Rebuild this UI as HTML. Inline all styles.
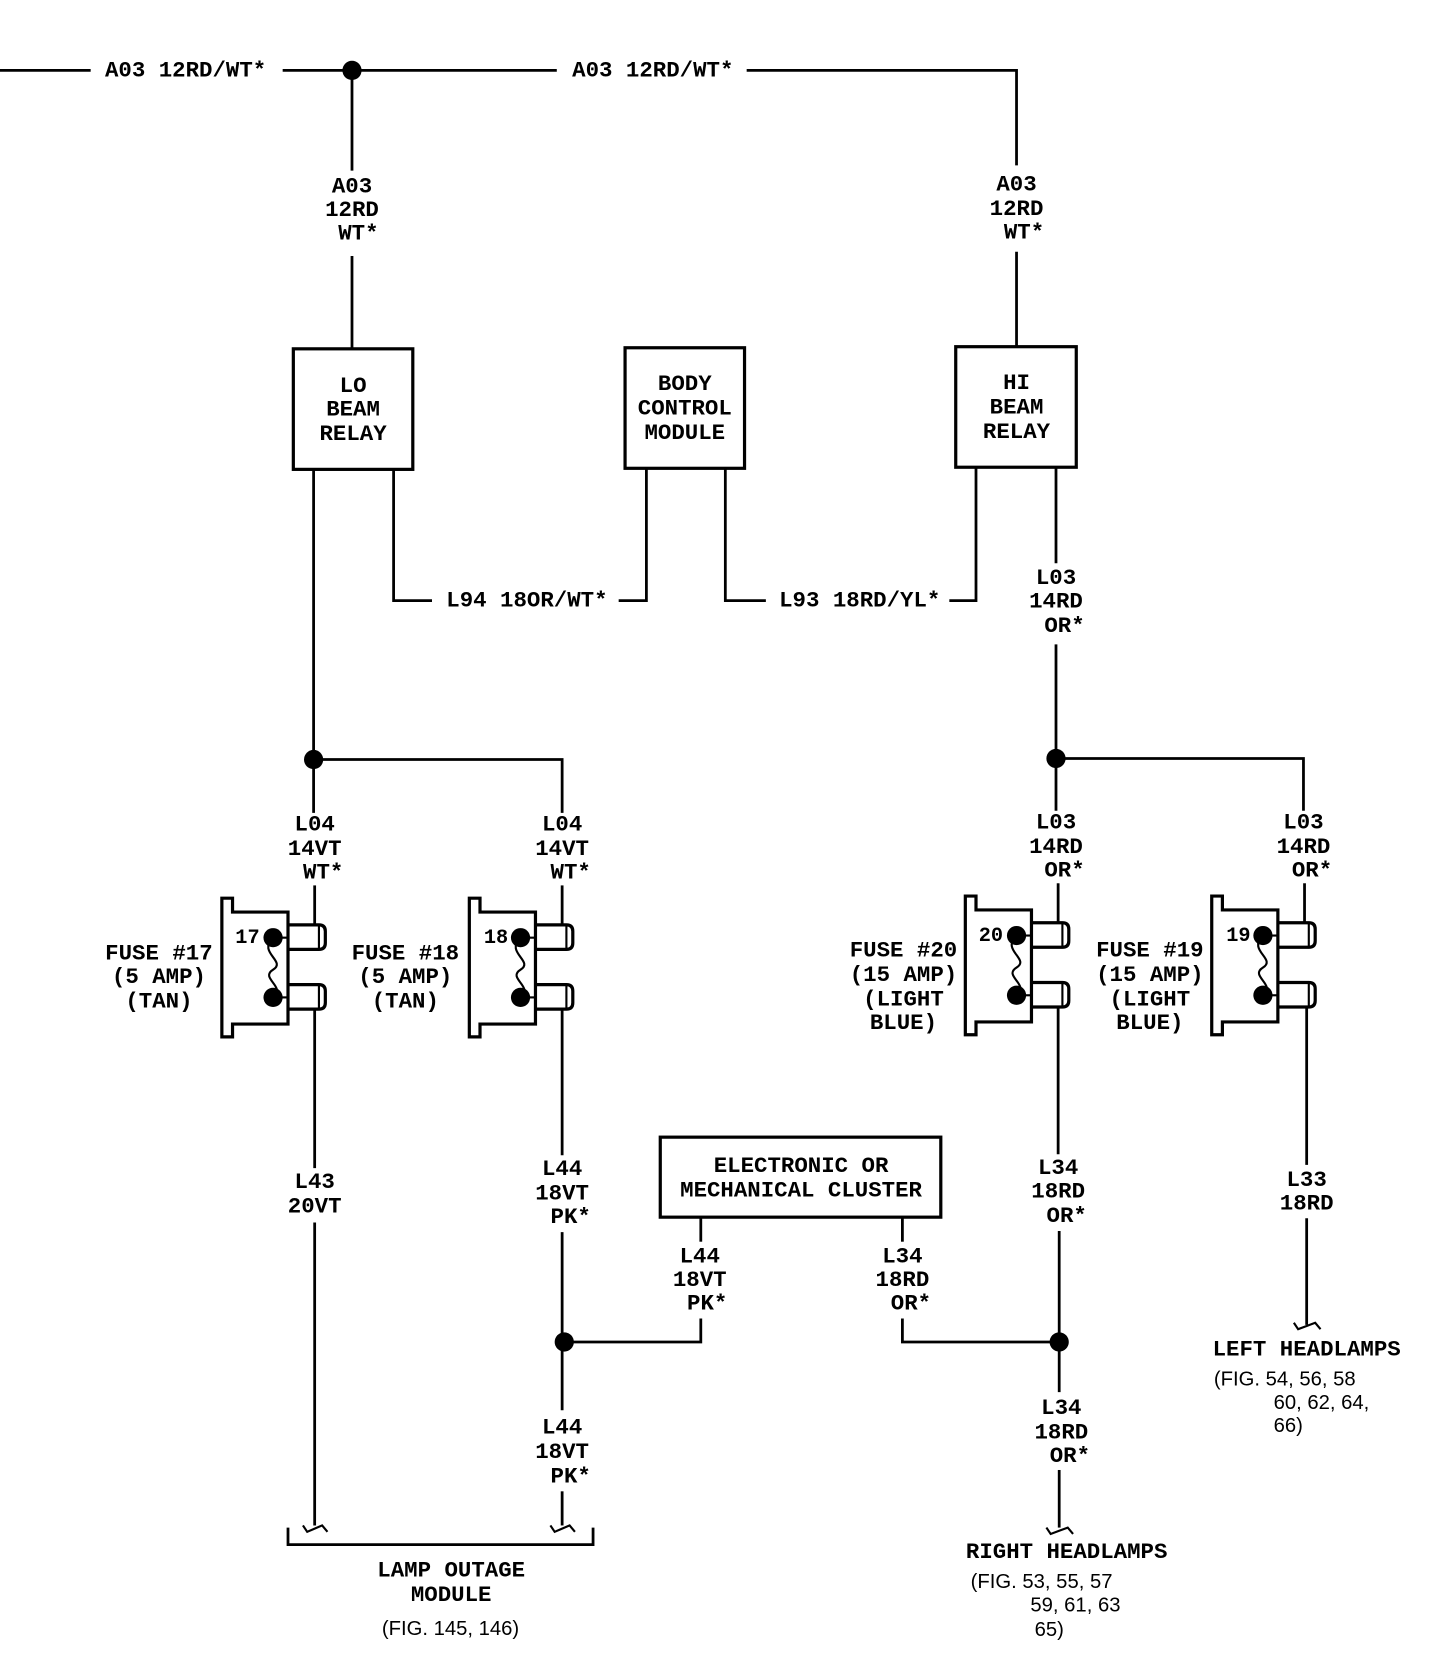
<!DOCTYPE html>
<html><head><meta charset="utf-8"><style>
html,body{margin:0;padding:0;background:#fff;}
svg{display:block;}
.t{font-family:"Liberation Mono",monospace;font-weight:bold;font-size:21px;fill:#000;text-anchor:middle;dominant-baseline:central;}
.s{font-family:"Liberation Sans",sans-serif;font-size:19px;fill:#000;dominant-baseline:central;}
</style></head><body>
<svg width="1440" height="1678" viewBox="0 0 1350 1573" preserveAspectRatio="none" xmlns="http://www.w3.org/2000/svg">
<defs>
<g id="fuse" fill="none" stroke="#000" stroke-width="3">
<path d="M -25 -24 L -77 -24 L -77 -37 L -87 -37 L -87 93 L -77 93 L -77 81 L -25 81 Z" fill="#fff"/>
<path d="M -25 -12 H 4 Q 10 -12 10 -6 V 5 Q 10 11 4 11 H -25" />
<path d="M -25 44 H 4 Q 10 44 10 50 V 61 Q 10 67 4 67 H -25" />
<line x1="4" y1="-12" x2="4" y2="11" stroke-width="2"/>
<line x1="4" y1="44" x2="4" y2="67" stroke-width="2"/>
<path d="M -39 0 C -54 14, -26 22, -39 30 C -52 38, -26 46, -39 56" stroke-width="2"/>
<line x1="-39" y1="0" x2="-25" y2="0" stroke-width="2"/>
<line x1="-39" y1="56" x2="-25" y2="56" stroke-width="2"/>
<circle cx="-39" cy="0" r="9" fill="#000" stroke="none"/>
<circle cx="-39" cy="56" r="9" fill="#000" stroke="none"/>
</g>
</defs>
<g fill="none" stroke="#000" stroke-width="2.6">
<!-- top -->
<line x1="0" y1="66" x2="85" y2="66"/>
<line x1="265" y1="66" x2="522" y2="66"/>
<polyline points="700,66 953,66 953,155"/>
<line x1="953" y1="236" x2="953" y2="325"/>
<line x1="330" y1="66" x2="330" y2="160"/>
<line x1="330" y1="240" x2="330" y2="327"/>
<!-- boxes -->
<rect x="275" y="327" width="112" height="113" stroke-width="3"/>
<rect x="586" y="326" width="112" height="113" stroke-width="3"/>
<rect x="896" y="325" width="113" height="113" stroke-width="3"/>
<rect x="619" y="1066" width="263" height="75" stroke-width="3"/>
<!-- relay control -->
<polyline points="369,440 369,563 405,563"/>
<polyline points="580,563 606,563 606,439"/>
<polyline points="680,439 680,563 718,563"/>
<polyline points="890,563 915,563 915,438"/>
<!-- LO side -->
<line x1="294" y1="440" x2="294" y2="762"/>
<polyline points="294,712 527,712 527,762"/>
<line x1="295" y1="830" x2="295" y2="867"/>
<line x1="527" y1="830" x2="527" y2="867"/>
<line x1="295" y1="946" x2="295" y2="1095"/>
<line x1="295" y1="1146" x2="295" y2="1430"/>
<line x1="527" y1="946" x2="527" y2="1083"/>
<line x1="527" y1="1155" x2="527" y2="1322"/>
<line x1="527" y1="1398" x2="527" y2="1430"/>
<polyline points="527,1258 657,1258 657,1236"/>
<line x1="657" y1="1141" x2="657" y2="1164"/>
<line x1="846" y1="1141" x2="846" y2="1164"/>
<polyline points="846,1236 846,1258 993,1258"/>
<!-- HI side -->
<line x1="990" y1="438" x2="990" y2="528"/>
<line x1="990" y1="604" x2="990" y2="760"/>
<polyline points="990,711 1222,711 1222,760"/>
<line x1="992" y1="828" x2="992" y2="865"/>
<line x1="1223" y1="828" x2="1223" y2="865"/>
<line x1="992" y1="944" x2="992" y2="1082"/>
<line x1="993" y1="1154" x2="993" y2="1305"/>
<line x1="993" y1="1378" x2="993" y2="1432"/>
<line x1="1225" y1="944" x2="1225" y2="1092"/>
<line x1="1225" y1="1142" x2="1225" y2="1242"/>
<!-- bracket -->
<polyline points="270,1432 270,1448 556,1448 556,1432"/>
<!-- squiggles -->
<path d="M 284 1430 L 288 1436 L 295 1433 L 302 1430 L 307 1436" stroke-width="2"/>
<path d="M 516 1430 L 520 1436 L 527 1433 L 534 1430 L 539 1436" stroke-width="2"/>
<path d="M 981 1432 L 985 1438 L 993 1435 L 1001 1432 L 1006 1438" stroke-width="2"/>
<path d="M 1213 1240 L 1217 1246 L 1225 1243 L 1233 1240 L 1238 1246" stroke-width="2"/>
</g>
<g fill="#000">
<circle cx="330" cy="66" r="9"/>
<circle cx="294" cy="712" r="9"/>
<circle cx="990" cy="711" r="9"/>
<circle cx="529" cy="1258" r="9"/>
<circle cx="993" cy="1258" r="9"/>
</g>
<use href="#fuse" x="295" y="879"/>
<use href="#fuse" x="527" y="879"/>
<use href="#fuse" x="992" y="877"/>
<use href="#fuse" x="1223" y="877"/>
<!-- texts -->
<text class="t" x="174" y="66">A03 12RD/WT*</text>
<text class="t" x="612" y="66">A03 12RD/WT*</text>
<text class="t" x="330" y="175">A03</text><text class="t" x="330" y="197">12RD</text><text class="t" x="336" y="219">WT*</text>
<text class="t" x="953" y="173">A03</text><text class="t" x="953" y="196">12RD</text><text class="t" x="960" y="218">WT*</text>
<text class="t" x="331" y="362">LO</text><text class="t" x="331" y="384">BEAM</text><text class="t" x="331" y="407">RELAY</text>
<text class="t" x="642" y="360">BODY</text><text class="t" x="642" y="383">CONTROL</text><text class="t" x="642" y="406">MODULE</text>
<text class="t" x="953" y="359">HI</text><text class="t" x="953" y="382">BEAM</text><text class="t" x="953" y="405">RELAY</text>
<text class="t" x="494" y="563">L94 18OR/WT*</text>
<text class="t" x="806" y="563">L93 18RD/YL*</text>
<text class="t" x="990" y="542">L03</text><text class="t" x="990" y="564">14RD</text><text class="t" x="998" y="587">OR*</text>
<text class="t" x="295" y="773">L04</text><text class="t" x="295" y="796">14VT</text><text class="t" x="303" y="818">WT*</text>
<text class="t" x="527" y="773">L04</text><text class="t" x="527" y="796">14VT</text><text class="t" x="535" y="818">WT*</text>
<text class="t" x="990" y="771">L03</text><text class="t" x="990" y="794">14RD</text><text class="t" x="998" y="816">OR*</text>
<text class="t" x="1222" y="771">L03</text><text class="t" x="1222" y="794">14RD</text><text class="t" x="1230" y="816">OR*</text>
<text class="t" x="149" y="894">FUSE #17</text><text class="t" x="149" y="916">(5 AMP)</text><text class="t" x="149" y="939">(TAN)</text>
<text class="t" x="380" y="894">FUSE #18</text><text class="t" x="380" y="916">(5 AMP)</text><text class="t" x="380" y="939">(TAN)</text>
<text class="t" x="847" y="891">FUSE #20</text><text class="t" x="847" y="914">(15 AMP)</text><text class="t" x="847" y="937">(LIGHT</text><text class="t" x="847" y="959">BLUE)</text>
<text class="t" x="1078" y="891">FUSE #19</text><text class="t" x="1078" y="914">(15 AMP)</text><text class="t" x="1078" y="937">(LIGHT</text><text class="t" x="1078" y="959">BLUE)</text>
<text class="t" x="232" y="880" style="font-size:19px">17</text>
<text class="t" x="465" y="880" style="font-size:19px">18</text>
<text class="t" x="929" y="878" style="font-size:19px">20</text>
<text class="t" x="1161" y="878" style="font-size:19px">19</text>
<text class="t" x="295" y="1108">L43</text><text class="t" x="295" y="1131">20VT</text>
<text class="t" x="527" y="1096">L44</text><text class="t" x="527" y="1119">18VT</text><text class="t" x="535" y="1141">PK*</text>
<text class="t" x="751" y="1093">ELECTRONIC OR</text><text class="t" x="751" y="1116">MECHANICAL CLUSTER</text>
<text class="t" x="656" y="1178">L44</text><text class="t" x="656" y="1200">18VT</text><text class="t" x="663" y="1222">PK*</text>
<text class="t" x="846" y="1178">L34</text><text class="t" x="846" y="1200">18RD</text><text class="t" x="854" y="1222">OR*</text>
<text class="t" x="992" y="1095">L34</text><text class="t" x="992" y="1117">18RD</text><text class="t" x="1000" y="1140">OR*</text>
<text class="t" x="1225" y="1106">L33</text><text class="t" x="1225" y="1128">18RD</text>
<text class="t" x="527" y="1338">L44</text><text class="t" x="527" y="1361">18VT</text><text class="t" x="535" y="1384">PK*</text>
<text class="t" x="995" y="1320">L34</text><text class="t" x="995" y="1343">18RD</text><text class="t" x="1003" y="1365">OR*</text>
<text class="t" x="423" y="1472">LAMP OUTAGE</text><text class="t" x="423" y="1495">MODULE</text>
<text class="s" x="358" y="1527">(FIG. 145, 146)</text>
<text class="t" x="1000" y="1455">RIGHT HEADLAMPS</text>
<text class="s" x="910" y="1483">(FIG. 53, 55, 57</text>
<text class="s" x="966" y="1505">59, 61, 63</text>
<text class="s" x="970" y="1528">65)</text>
<text class="t" x="1225" y="1265">LEFT HEADLAMPS</text>
<text class="s" x="1138" y="1293">(FIG. 54, 56, 58</text>
<text class="s" x="1194" y="1315">60, 62, 64,</text>
<text class="s" x="1194" y="1337">66)</text>
</svg>
</body></html>
